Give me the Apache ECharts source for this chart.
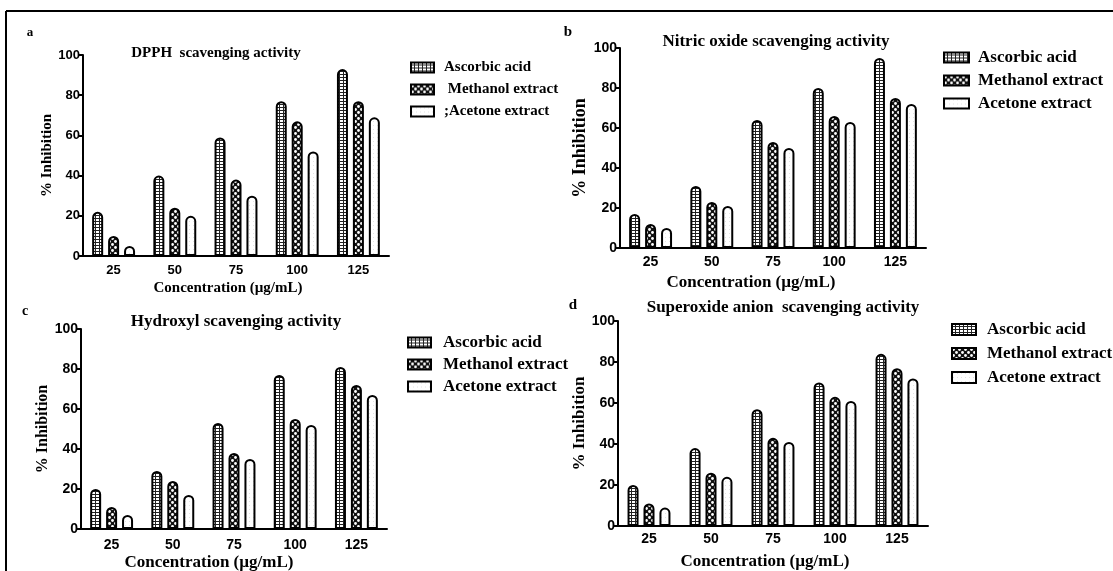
<!DOCTYPE html>
<html>
<head>
<meta charset="utf-8">
<script src="https://cdn.jsdelivr.net/npm/echarts@6/dist/echarts.min.js"></script>
<style>
html,body{margin:0;padding:0;background:#fff;}
#chart{width:1113px;height:571px;}
</style>
</head>
<body>
<div id="chart"></div>
<script>
// ---------- data ----------
const categories = ['25', '50', '75', '100', '125'];
const seriesNames = ['Ascorbic acid', 'Methanol extract', 'Acetone extract'];
const yTicks = [0, 20, 40, 60, 80, 100];

const dpphAscorbic = [22, 40, 59, 77, 93];
const dpphMethanol = [10, 24, 38, 67, 77];
const dpphAcetone  = [5, 20, 30, 52, 69];

const nitricAscorbic = [17, 31, 64, 80, 95];
const nitricMethanol = [12, 23, 53, 66, 75];
const nitricAcetone  = [10, 21, 50, 63, 72];

const hydroxylAscorbic = [20, 29, 53, 77, 81];
const hydroxylMethanol = [11, 24, 38, 55, 72];
const hydroxylAcetone  = [7, 17, 35, 52, 67];

const superoxideAscorbic = [20, 38, 57, 70, 84];
const superoxideMethanol = [11, 26, 43, 63, 77];
const superoxideAcetone  = [9, 24, 41, 61, 72];

const panelTitles = ['DPPH  scavenging activity', 'Nitric oxide scavenging activity', 'Hydroxyl scavenging activity', 'Superoxide anion  scavenging activity'];
const panelLetters = ['a', 'b', 'c', 'd'];
const xAxisName = 'Concentration (µg/mL)';
const yAxisName = '% Inhibition';

// ---------- patterns ----------
function makePattern(w, h, draw) {
  const c = document.createElement('canvas');
  c.width = w; c.height = h;
  const ctx = c.getContext('2d');
  draw(ctx);
  return { image: c, repeat: 'repeat' };
}
const patAscorbic = makePattern(4, 3, ctx => {
  ctx.fillStyle = '#fff'; ctx.fillRect(0, 0, 4, 3);
  ctx.fillStyle = '#222'; ctx.fillRect(0, 2, 4, 1); ctx.fillRect(3, 0, 1, 2);
});
const patMethanol = makePattern(6, 6, ctx => {
  ctx.fillStyle = '#111'; ctx.fillRect(0, 0, 6, 6);
  ctx.fillStyle = '#fff';
  ctx.beginPath(); ctx.arc(1.5, 1.5, 1.4, 0, Math.PI * 2); ctx.fill();
  ctx.beginPath(); ctx.arc(4.5, 4.5, 1.4, 0, Math.PI * 2); ctx.fill();
});
const patAcetone = makePattern(4, 4, ctx => {
  ctx.fillStyle = '#fff'; ctx.fillRect(0, 0, 4, 4);
  ctx.fillStyle = '#e4e4e4'; ctx.fillRect(1, 1, 1, 1);
});
const patterns = [patAscorbic, patMethanol, patAcetone];

const panelData = [
  [dpphAscorbic, dpphMethanol, dpphAcetone],
  [nitricAscorbic, nitricMethanol, nitricAcetone],
  [hydroxylAscorbic, hydroxylMethanol, hydroxylAcetone],
  [superoxideAscorbic, superoxideMethanol, superoxideAcetone]
];

// ---------- layout ----------
const grids = [
  { left: 83, top: 55, width: 306, height: 201 },
  { left: 620, top: 48, width: 306, height: 200 },
  { left: 81, top: 329, width: 306, height: 200 },
  { left: 618, top: 321, width: 310, height: 205 }
];
const yNameGap = [22, 28, 30, 26];
const yNameFont = [15, 18, 16, 17];
const tickFont = [13, 14, 14, 14];
const xLabelMargin = [8, 7, 9, 6];
const titleFont = [15, 17, 17, 17];
const titlePos = [[216, 53], [776, 42], [236, 322], [783, 308]];
const xNamePos = [[228, 288], [751, 283], [209, 563], [765, 562]];
const xNameFont = [15, 17, 17, 17];
const letterPos = [[30, 33], [568, 32], [25, 311], [573, 305]];
const letterFont = [13, 15, 14, 15];
const legendPos = [
  { left: 410, top: 60, itemGap: 7, font: 15, w: 23, h: 10, pad: 5 },
  { left: 943, top: 49, itemGap: 6, font: 17, w: 25, h: 10, pad: 4 },
  { left: 407, top: 334, itemGap: 5, font: 17, w: 23, h: 10, pad: 7 },
  { left: 951, top: 321, itemGap: 7, font: 17, w: 24, h: 11, pad: 6 }
];

const serif = '"Liberation Serif", "Times New Roman", serif';
const sans = '"Liberation Sans", Arial, sans-serif';

const option = {
  animation: false,
  backgroundColor: '#fff',
  grid: grids.map(g => Object.assign({ containLabel: false }, g)),
  xAxis: grids.map((g, i) => ({
    type: 'category', gridIndex: i, data: categories,
    axisLine: { lineStyle: { color: '#000', width: 2 } },
    axisTick: { alignWithLabel: true, length: 5, lineStyle: { color: '#000', width: 2 } },
    axisLabel: { fontFamily: sans, fontWeight: 'bold', fontSize: tickFont[i], color: '#000', margin: xLabelMargin[i] },
    splitLine: { show: false }
  })),
  yAxis: grids.map((g, i) => ({
    type: 'value', gridIndex: i, min: 0, max: 100, interval: 20,
    name: yAxisName, nameLocation: 'middle', nameGap: yNameGap[i], nameRotate: 90,
    nameTextStyle: { fontFamily: serif, fontWeight: 'bold', fontSize: yNameFont[i], color: '#000' },
    axisLine: { show: true, lineStyle: { color: '#000', width: 2 } },
    axisTick: { show: true, length: 4, lineStyle: { color: '#000', width: 2 } },
    axisLabel: { fontFamily: sans, fontWeight: 'bold', fontSize: tickFont[i], color: '#000', margin: 3,
      formatter: v => yTicks.indexOf(v) >= 0 ? String(v) : '' },
    splitLine: { show: false }
  })),
  legend: legendPos.map((l, i) => ({
    orient: 'vertical', left: l.left, top: l.top, padding: 0, itemGap: l.itemGap,
    itemWidth: l.w, itemHeight: l.h, icon: 'rect',
    data: seriesNames,
    formatter: i === 0 ? (n => n === 'Acetone extract' ? ';Acetone extract' : (n === 'Methanol extract' ? ' Methanol extract' : n)) : (n => n),
    textStyle: { fontFamily: serif, fontWeight: 'bold', fontSize: l.font, color: '#000', padding: [0, 0, 0, l.pad] },
    itemStyle: { borderColor: '#000', borderWidth: 2 },
    selectedMode: false
  })),
  series: [],
  graphic: []
};

panelData.forEach((arrs, p) => {
  arrs.forEach((vals, s) => {
    option.series.push({
      type: 'bar', name: seriesNames[s], xAxisIndex: p, yAxisIndex: p,
      data: vals, barWidth: 11, barGap: '45%',
      itemStyle: { color: patterns[s], borderColor: '#000', borderWidth: 2, borderRadius: [5, 5, 0, 0] }
    });
  });
});

panelTitles.forEach((t, i) => {
  option.graphic.push({
    type: 'text', x: titlePos[i][0], y: titlePos[i][1],
    style: { text: t, fontFamily: serif, fontWeight: 'bold', fontSize: titleFont[i], fill: '#000', align: 'center', verticalAlign: 'middle' }
  });
  option.graphic.push({
    type: 'text', x: xNamePos[i][0], y: xNamePos[i][1],
    style: { text: xAxisName, fontFamily: serif, fontWeight: 'bold', fontSize: xNameFont[i], fill: '#000', align: 'center', verticalAlign: 'middle' }
  });
  option.graphic.push({
    type: 'text', x: letterPos[i][0], y: letterPos[i][1],
    style: { text: panelLetters[i], fontFamily: serif, fontWeight: 'bold', fontSize: letterFont[i], fill: '#000', align: 'center', verticalAlign: 'middle' }
  });
});

// frame
option.graphic.push({ type: 'line', shape: { x1: 6, y1: 11, x2: 1113, y2: 11 }, style: { stroke: '#000', lineWidth: 2 } });
option.graphic.push({ type: 'line', shape: { x1: 6, y1: 11, x2: 6, y2: 571 }, style: { stroke: '#000', lineWidth: 2 } });

const chart = echarts.init(document.getElementById('chart'), null, { renderer: 'canvas' });
chart.setOption(option);
</script>
</body>
</html>
